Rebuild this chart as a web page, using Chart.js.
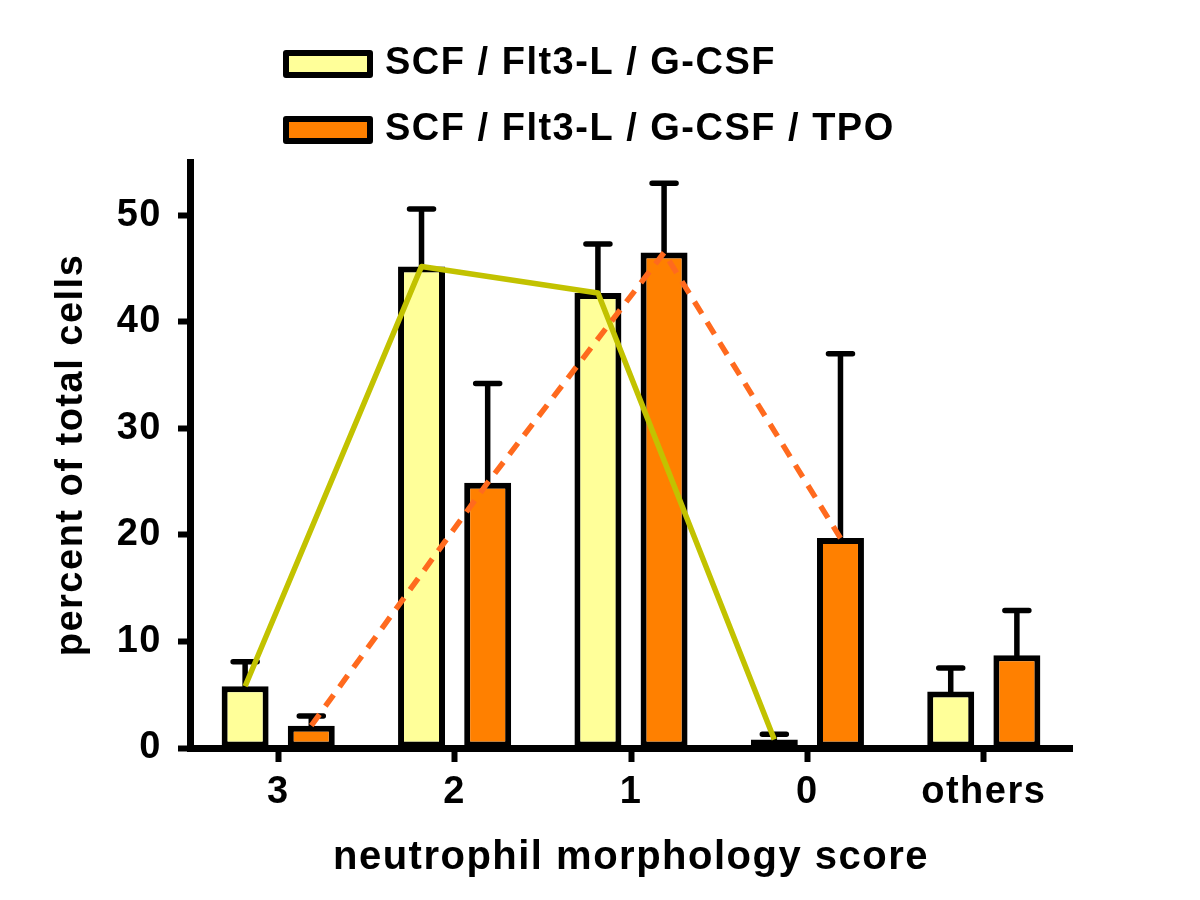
<!DOCTYPE html>
<html>
<head>
<meta charset="utf-8">
<script src="https://cdn.jsdelivr.net/npm/chart.js@4.4.1/dist/chart.umd.min.js"></script>
<style>
  html, body { margin: 0; padding: 0; background: #fff; }
  canvas { display: block; }
</style>
</head>
<body>
<canvas id="chart" width="1200" height="900"></canvas>
<script>
// Values
const categories = ['3', '2', '1', '0', 'others'];
const seriesNames = ['SCF / Flt3-L / G-CSF', 'SCF / Flt3-L / G-CSF / TPO'];
const meanNoTpo = [5.8, 45.2, 42.7, 0.8, 5.3];
const errNoTpo = [2.3, 5.4, 4.6, 0.5, 2.2];
const meanTpo = [2.1, 24.9, 46.5, 19.7, 8.7];
const errTpo = [0.9, 9.3, 6.5, 17.3, 4.2];
const yTicks = [0, 10, 20, 30, 40, 50];
const trendCount = 4; // the joining lines stop before "others"

const FONT = "'Liberation Sans', Arial, sans-serif";
Chart.defaults.font.family = FONT;
Chart.defaults.font.weight = 'bold';
Chart.defaults.color = '#000';

// text in the figure is a little spread out
const spacing = {
    id: 'spacing',
    beforeLayout(chart) { chart.ctx.letterSpacing = '1.5px'; },
    beforeDraw(chart) { chart.ctx.letterSpacing = '1.5px'; }
};

// upper error bars, drawn under the bars
const errorBars = {
    id: 'errorBars',
    beforeDatasetsDraw(chart) {
        const { ctx, scales: { y } } = chart;
        ctx.save();
        ctx.strokeStyle = '#000';
        ctx.lineWidth = 5.5;
        ctx.lineCap = 'round';
        chart.data.datasets.forEach((ds, di) => {
            chart.getDatasetMeta(di).data.forEach((bar, i) => {
                const top = y.getPixelForValue(ds.data[i] + ds.errors[i]);
                ctx.beginPath();
                ctx.moveTo(bar.x, bar.y);
                ctx.lineTo(bar.x, top);
                ctx.moveTo(bar.x - 12, top);
                ctx.lineTo(bar.x + 12, top);
                ctx.stroke();
            });
        });
        ctx.restore();
    }
};

// lines joining the bar tops of scores 3..0
const trendLines = {
    id: 'trendLines',
    afterDatasetsDraw(chart) {
        const ctx = chart.ctx;
        chart.data.datasets.forEach((ds, di) => {
            const pts = chart.getDatasetMeta(di).data.slice(0, trendCount);
            ctx.save();
            ctx.strokeStyle = ds.trendColor;
            ctx.lineWidth = 5.5;
            ctx.lineJoin = 'round';
            ctx.setLineDash(ds.trendDash);
            ctx.beginPath();
            pts.forEach((p, i) => i ? ctx.lineTo(p.x, p.y) : ctx.moveTo(p.x, p.y));
            ctx.stroke();
            ctx.restore();
        });
    }
};

// stacked legend top left
const boxLegend = {
    id: 'boxLegend',
    afterDraw(chart) {
        const ctx = chart.ctx;
        ctx.save();
        ctx.font = 'bold 38px ' + FONT;
        ctx.letterSpacing = '1.5px';
        ctx.textBaseline = 'middle';
        chart.data.datasets.forEach((ds, i) => {
            const cy = 64 + i * 66;
            ctx.fillStyle = ds.backgroundColor;
            ctx.fillRect(286, cy - 11, 84, 22);
            ctx.lineWidth = 6;
            ctx.lineJoin = 'round';
            ctx.strokeStyle = '#000';
            ctx.strokeRect(286, cy - 11, 84, 22);
            ctx.fillStyle = '#000';
            ctx.fillText(ds.label, 385, cy);
        });
        ctx.restore();
    }
};

new Chart(document.getElementById('chart'), {
    type: 'bar',
    data: {
        labels: categories,
        datasets: [
            {
                label: seriesNames[0],
                data: meanNoTpo,
                errors: errNoTpo,
                backgroundColor: '#FFFF99',
                trendColor: '#C2C200',
                trendDash: []
            },
            {
                label: seriesNames[1],
                data: meanTpo,
                errors: errTpo,
                backgroundColor: '#FF8000',
                trendColor: '#FF6A1E',
                trendDash: [14, 10]
            }
        ]
    },
    options: {
        responsive: false,
        devicePixelRatio: 1,
        animation: false,
        layout: { padding: { top: 162, right: 128, left: 0, bottom: 0 } },
        datasets: {
            bar: {
                borderColor: '#000',
                borderWidth: 6,
                borderSkipped: false,
                categoryPercentage: 0.75,
                barPercentage: 0.71
            }
        },
        plugins: {
            legend: { display: false },
            tooltip: { enabled: false }
        },
        scales: {
            x: {
                grid: {
                    offset: false,
                    drawOnChartArea: false,
                    tickLength: 14,
                    tickWidth: 6,
                    tickColor: '#000'
                },
                border: { color: '#000', width: 7 },
                ticks: { font: { size: 38 }, padding: 8, maxRotation: 0 },
                title: {
                    display: true,
                    text: 'neutrophil morphology score',
                    font: { size: 40 },
                    padding: { top: 0, bottom: 18 }
                },
                afterFit(scale) { scale.height = 152; }
            },
            y: {
                min: 0,
                max: 55,
                afterBuildTicks(scale) { scale.ticks = yTicks.map(v => ({ value: v })); },
                grid: {
                    drawOnChartArea: false,
                    tickLength: 12,
                    tickWidth: 6,
                    tickColor: '#000'
                },
                border: { color: '#000', width: 7 },
                ticks: { font: { size: 38 }, padding: 16 },
                title: {
                    display: true,
                    text: 'percent of total cells',
                    font: { size: 38 },
                    padding: { top: 49, bottom: 0 }
                },
                afterFit(scale) { scale.width = 190; }
            }
        }
    },
    plugins: [spacing, errorBars, trendLines, boxLegend]
});
</script>
</body>
</html>
